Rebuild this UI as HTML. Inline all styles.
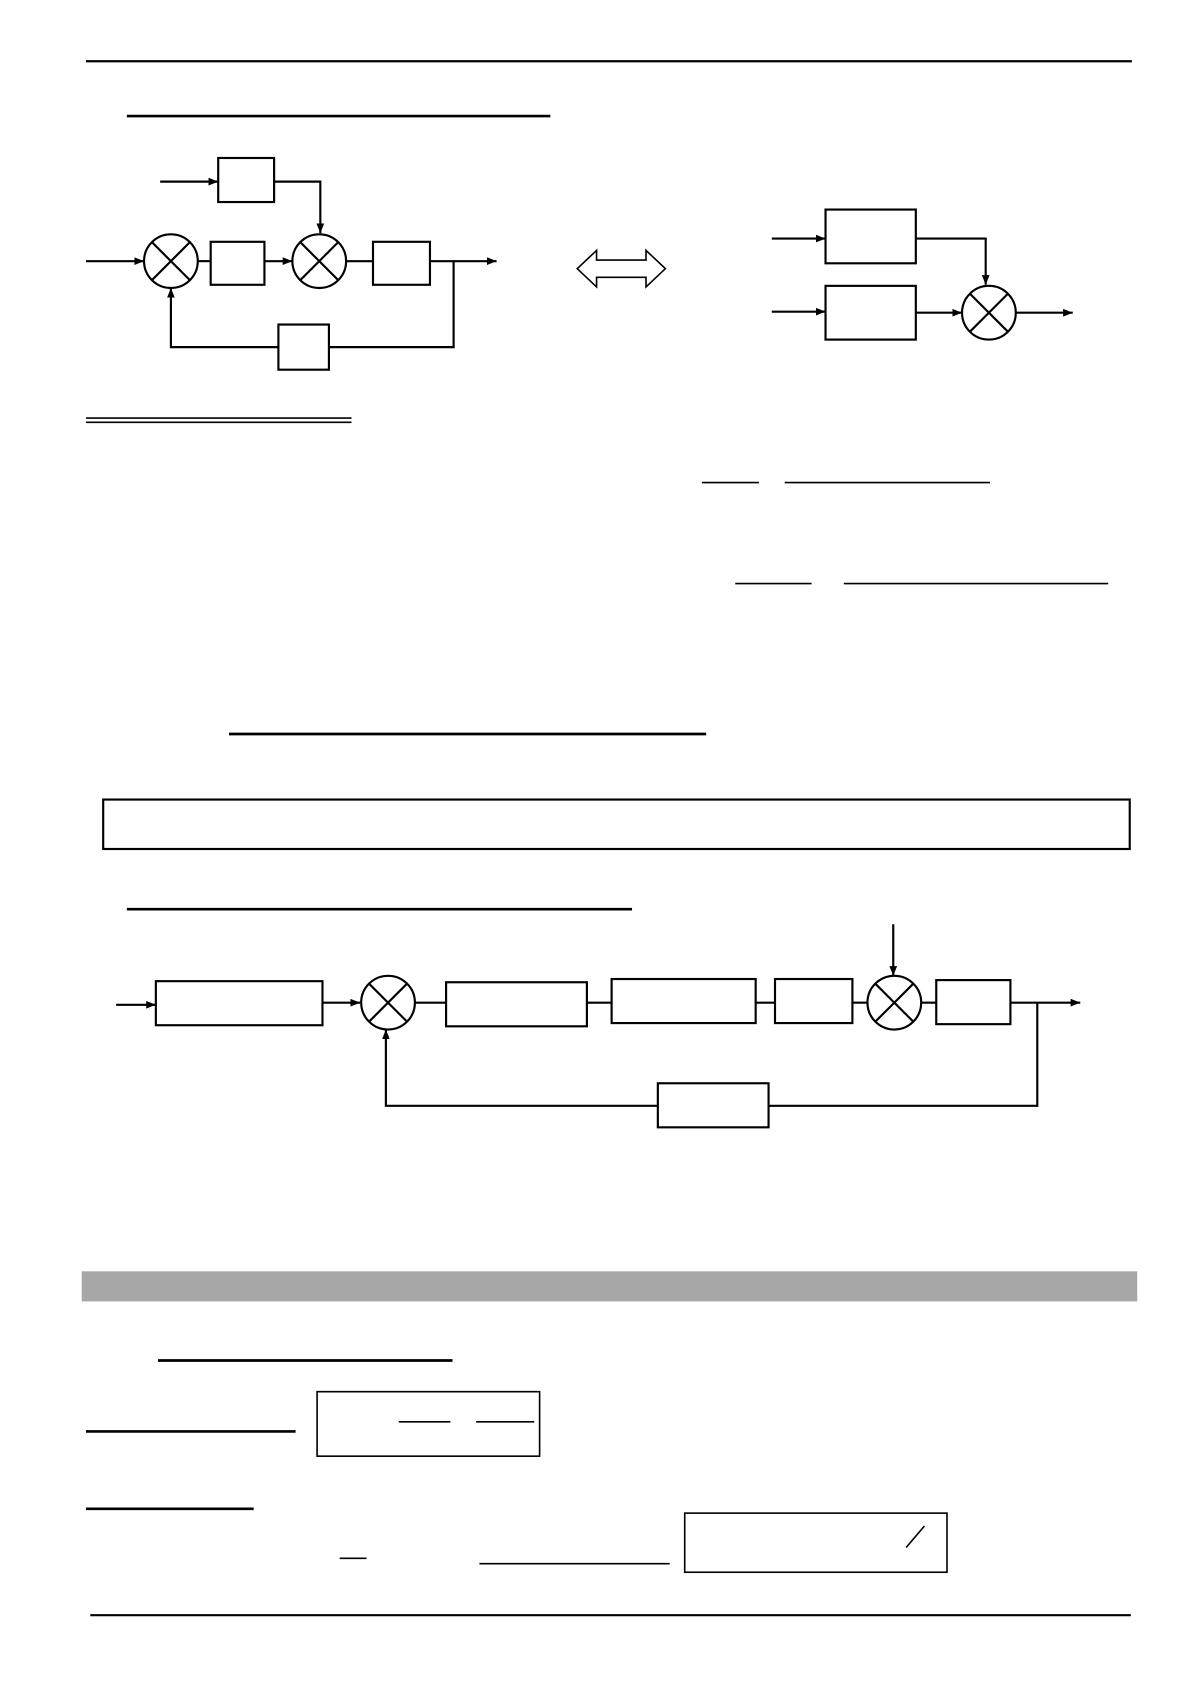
<!DOCTYPE html>
<html><head><meta charset="utf-8"><style>html,body{margin:0;padding:0;background:#fff}svg{display:block}</style></head>
<body>
<svg width="1191" height="1684" viewBox="0 0 1108 1567" preserveAspectRatio="none" xmlns="http://www.w3.org/2000/svg">
<defs><marker id="a" viewBox="0 0 10 10" refX="10" refY="5" markerWidth="9" markerHeight="9" markerUnits="userSpaceOnUse" orient="auto"><path d="M0,1 L10,5 L0,9 z" fill="#000"/></marker></defs>
<g stroke="#000" fill="none" stroke-width="2">
<line x1="80" y1="57" x2="1053" y2="57"/>
<line x1="118" y1="108" x2="512" y2="108" stroke-width="2.5"/>
<rect x="203" y="147" width="52" height="41"/>
<line x1="149" y1="169" x2="203" y2="169" marker-end="url(#a)"/>
<polyline points="255,169 298,169 298,217" marker-end="url(#a)"/>
<circle cx="159" cy="243" r="25"/>
<line x1="141" y1="225" x2="177" y2="261"/><line x1="177" y1="225" x2="141" y2="261"/>
<circle cx="297" cy="243" r="25"/>
<line x1="279" y1="225" x2="315" y2="261"/><line x1="315" y1="225" x2="279" y2="261"/>
<line x1="80" y1="243" x2="134" y2="243" marker-end="url(#a)"/>
<line x1="184" y1="243" x2="196" y2="243"/>
<rect x="196" y="225" width="50" height="40"/>
<line x1="246" y1="243" x2="272" y2="243" marker-end="url(#a)"/>
<line x1="322" y1="243" x2="347" y2="243"/>
<rect x="347" y="225" width="53" height="40"/>
<line x1="400" y1="243" x2="462" y2="243" marker-end="url(#a)"/>
<polyline points="422,243 422,323 306,323"/>
<rect x="259" y="302" width="47" height="42"/>
<polyline points="259,323 159,323 159,268" marker-end="url(#a)"/>
<path d="M537,250 L555,233 L555,242 L601,242 L601,233 L619,250 L601,267 L601,258 L555,258 L555,267 Z" stroke-width="1.5"/>
<rect x="768" y="195" width="84" height="50"/>
<rect x="768" y="266" width="84" height="50"/>
<line x1="718" y1="222" x2="768" y2="222" marker-end="url(#a)"/>
<line x1="718" y1="290" x2="768" y2="290" marker-end="url(#a)"/>
<polyline points="852,222 917,222 917,265" marker-end="url(#a)"/>
<line x1="852" y1="291" x2="895" y2="291" marker-end="url(#a)"/>
<circle cx="920" cy="291" r="25"/>
<line x1="902" y1="273" x2="938" y2="309"/><line x1="938" y1="273" x2="902" y2="309"/>
<line x1="945" y1="291" x2="998" y2="291" marker-end="url(#a)"/>
<line x1="80" y1="389" x2="327" y2="389" stroke-width="1.5"/>
<line x1="80" y1="393" x2="327" y2="393" stroke-width="1.5"/>
<line x1="653" y1="449" x2="706" y2="449" stroke-width="1.5"/>
<line x1="730" y1="449" x2="921" y2="449" stroke-width="1.5"/>
<line x1="684" y1="543" x2="755" y2="543" stroke-width="1.5"/>
<line x1="785" y1="543" x2="1031" y2="543" stroke-width="1.5"/>
<line x1="213" y1="683" x2="657" y2="683" stroke-width="2.5"/>
<rect x="96" y="744" width="955" height="46"/>
<line x1="118" y1="846" x2="588" y2="846" stroke-width="2.5"/>
<line x1="108" y1="935" x2="145" y2="935" marker-end="url(#a)"/>
<rect x="145" y="913" width="155" height="41"/>
<line x1="300" y1="933" x2="335" y2="933" marker-end="url(#a)"/>
<circle cx="361" cy="933" r="25"/>
<line x1="343" y1="915" x2="379" y2="951"/><line x1="379" y1="915" x2="343" y2="951"/>
<line x1="386" y1="933" x2="415" y2="933"/>
<rect x="415" y="914" width="131" height="41"/>
<line x1="546" y1="933" x2="569" y2="933"/>
<rect x="569" y="911" width="134" height="41"/>
<line x1="703" y1="933" x2="721" y2="933"/>
<rect x="721" y="911" width="72" height="41"/>
<line x1="793" y1="933" x2="807" y2="933"/>
<circle cx="832" cy="933" r="25"/>
<line x1="814" y1="915" x2="850" y2="951"/><line x1="850" y1="915" x2="814" y2="951"/>
<line x1="831" y1="860" x2="831" y2="908" marker-end="url(#a)"/>
<line x1="857" y1="933" x2="871" y2="933"/>
<rect x="871" y="912" width="69" height="41"/>
<line x1="940" y1="933" x2="1005" y2="933" marker-end="url(#a)"/>
<polyline points="965,933 965,1029 715,1029"/>
<rect x="612" y="1008" width="103" height="41"/>
<polyline points="612,1029 359,1029 359,958" marker-end="url(#a)"/>
<rect x="76" y="1183" width="982" height="28" fill="#a6a6a6" stroke="none"/>
<line x1="147" y1="1266" x2="421" y2="1266" stroke-width="2.5"/>
<line x1="80" y1="1332" x2="275" y2="1332" stroke-width="2.5"/>
<rect x="295" y="1295" width="207" height="60" stroke-width="1.5"/>
<line x1="371" y1="1323" x2="419" y2="1323" stroke-width="1.5"/>
<line x1="443" y1="1323" x2="497" y2="1323" stroke-width="1.5"/>
<line x1="80" y1="1404" x2="236" y2="1404" stroke-width="2.5"/>
<line x1="316" y1="1450" x2="341" y2="1450" stroke-width="1.5"/>
<line x1="446" y1="1455" x2="623" y2="1455" stroke-width="1.5"/>
<rect x="637" y="1408" width="244" height="55" stroke-width="1.5"/>
<line x1="843" y1="1440" x2="860" y2="1420" stroke-width="1.5"/>
<line x1="84" y1="1503" x2="1052" y2="1503"/>
</g>
</svg>
</body></html>
